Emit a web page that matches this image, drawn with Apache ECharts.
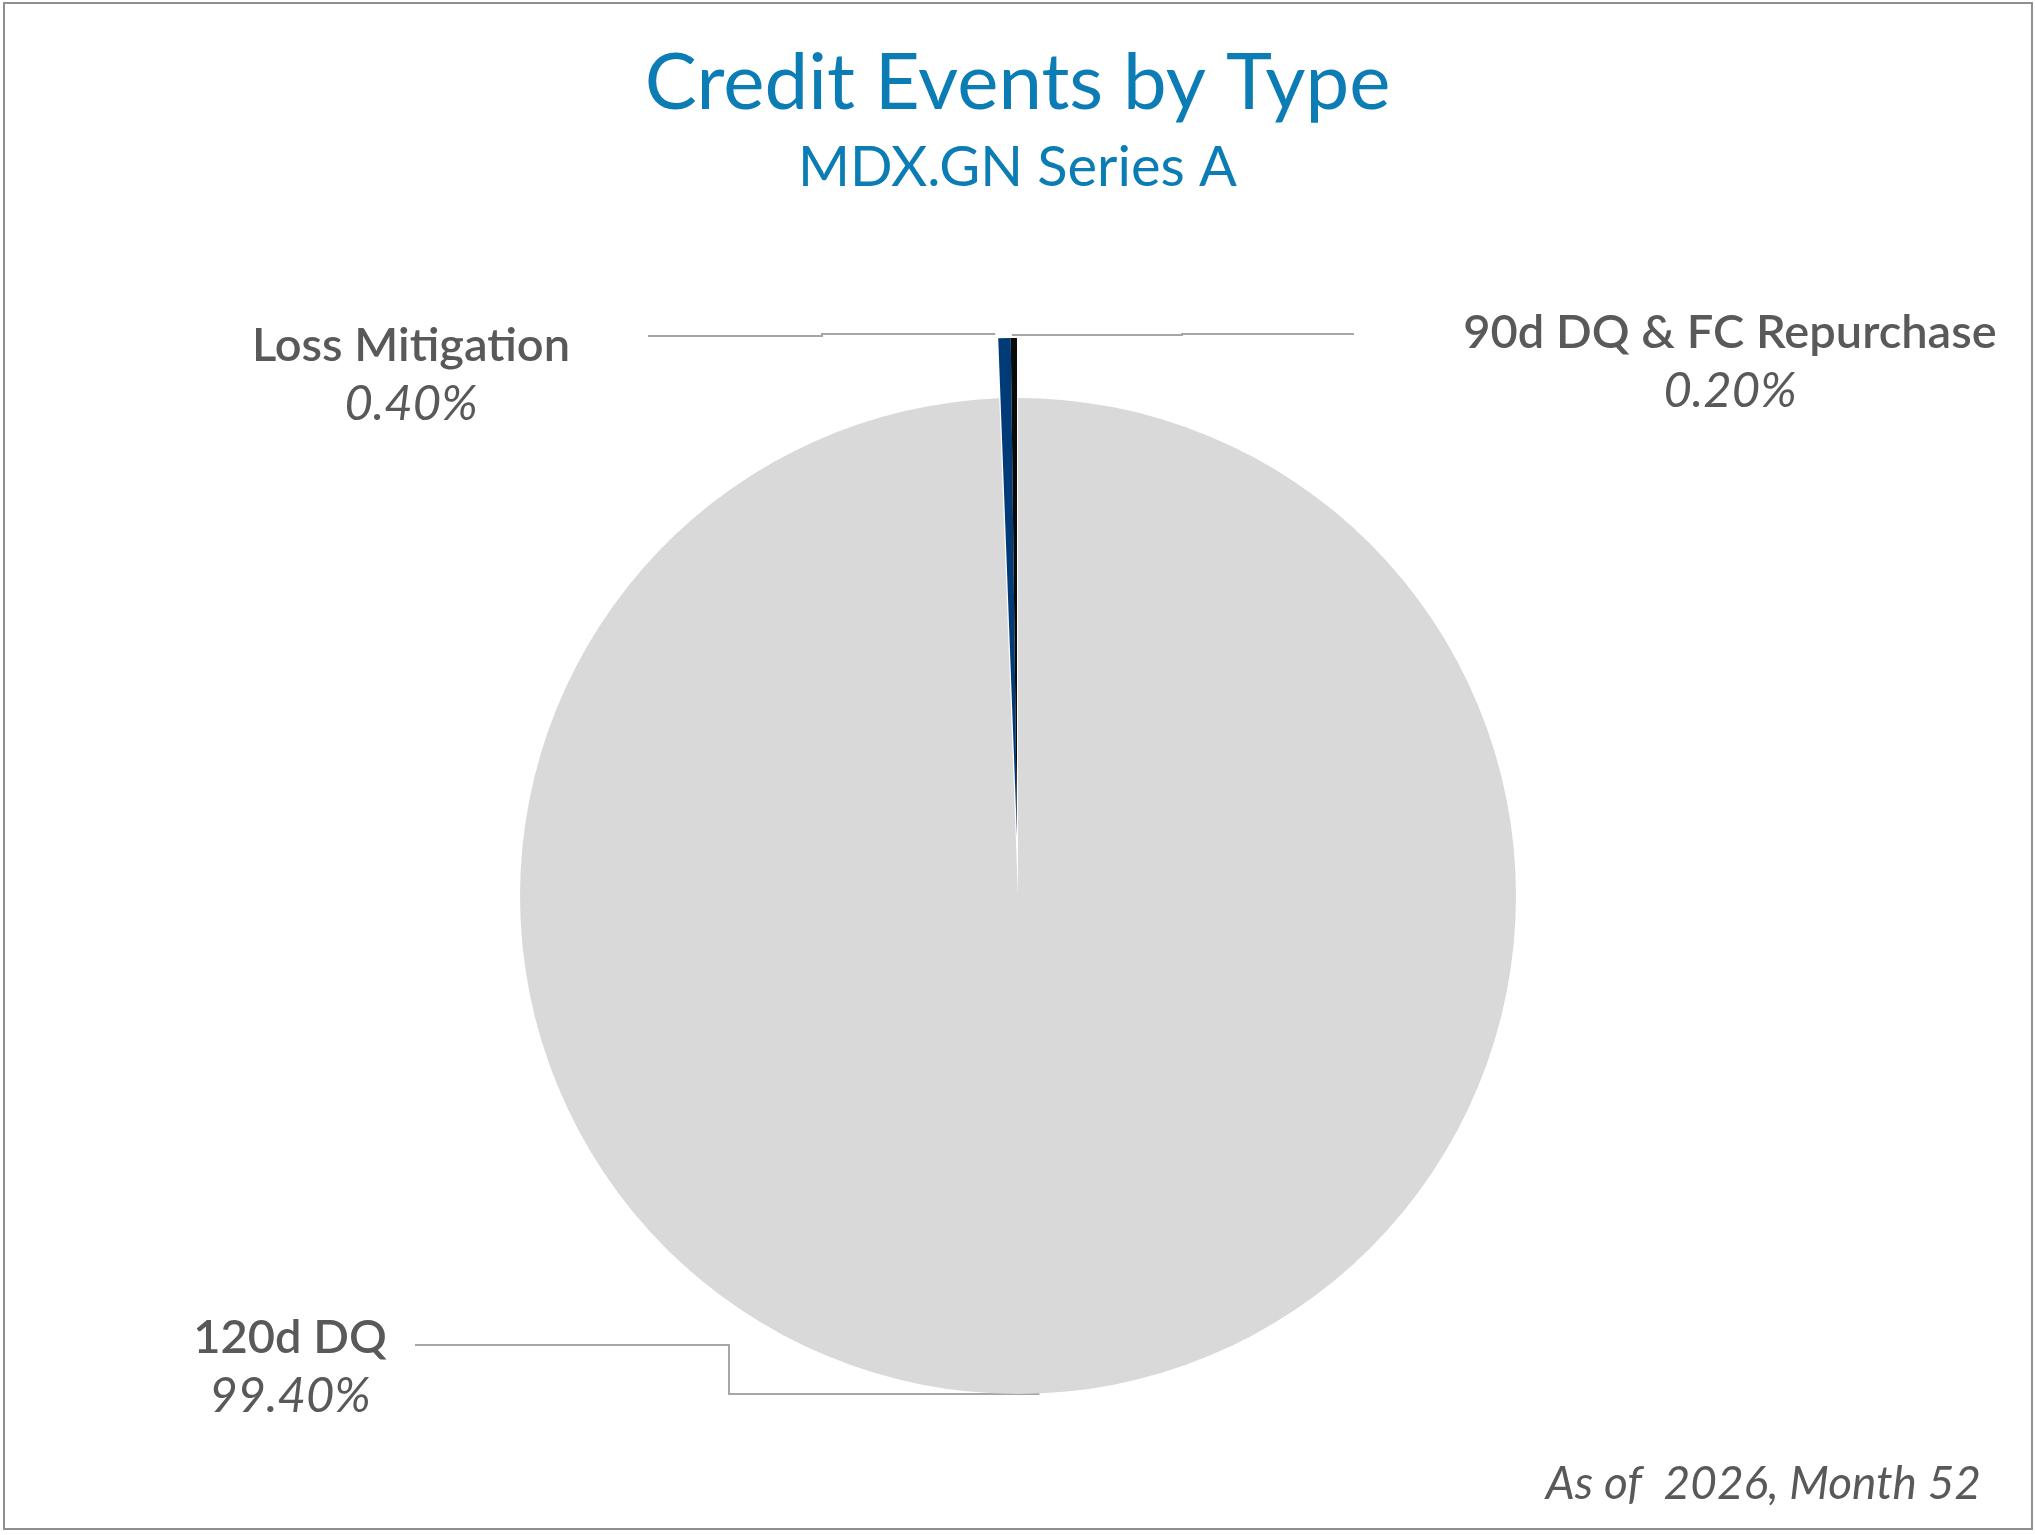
<!DOCTYPE html>
<html>
<head>
<meta charset="utf-8">
<title>Credit Events by Type</title>
<script src="https://cdn.jsdelivr.net/npm/echarts@6/dist/echarts.min.js"></script>
<style>
  html, body { margin: 0; padding: 0; background: #fff; }
  #frame { position: absolute; left: 3px; top: 2px; width: 2026px; height: 1524px; border: 2px solid #8f8f8f; }
  #chart { position: absolute; left: 0; top: 0; width: 2035px; height: 1535px; }
</style>
</head>
<body>
<div id="frame"></div>
<div id="chart"></div>
<script>
// data
const categories = ['120d DQ', 'Loss Mitigation', '90d DQ & FC Repurchase'];
const shares = [99.4, 0.4, 0.2];
const sliceColors = ['#d9d9d9', '#003b78', '#0a0a0a'];
const exploded = [false, true, true];

const FONT = 'Lato, "Open Sans", sans-serif';
const GREY_TXT = '#595959';
const CENTER = [1018, 896];
const RADIUS = 498;
const EXPLODE = 60;

// where each label block sits (centre x, centre y)
const labelSpots = [
  { x: 290, y: 1367 },
  { x: 411, y: 375 },
  { x: 1730, y: 362 }
];

const chart = echarts.init(document.getElementById('chart'));

function leader(i, p) {
  const r = p.rect;
  if (i === 0) {
    const a = p.labelLinePoints ? p.labelLinePoints[0] : [r.x + r.width / 2, r.y + r.height];
    return [[a[0] + 12, a[1]], [729, a[1]], [729, 1345], [415, 1345]];
  }
  if (i === 1) {
    return [[r.x - 3, r.y - 4], [822, r.y - 4], [822, r.y - 2], [648, r.y - 2]];
  }
  return [[r.x + r.width / 2 - 2, r.y - 3], [1182, r.y - 3], [1182, r.y - 4], [1354, r.y - 4]];
}

// one ring for the slices that stay in place, one pushed out for the exploded ones
function ring(pushed) {
  return {
    type: 'pie',
    center: pushed ? [CENTER[0] - 1, CENTER[1] - EXPLODE] : CENTER,
    radius: RADIUS,
    startAngle: 90,
    clockwise: true,
    silent: true,
    emphasis: { disabled: true },
    data: categories.map((c, i) => {
      const mine = exploded[i] === pushed;
      return {
        name: c,
        value: shares[i],
        itemStyle: { color: mine ? sliceColors[i] : 'rgba(0,0,0,0)' },
        label: { show: mine },
        labelLine: { show: mine }
      };
    }),
    label: {
      show: true,
      position: 'outside',
      formatter: p => '{n|' + p.name + '}\n{v|' + p.value.toFixed(2) + '%}',
      rich: {
        n: { fontFamily: FONT, fontSize: 47, fontWeight: 600, color: GREY_TXT, lineHeight: 59, align: 'center' },
        v: { fontFamily: FONT, fontSize: 49, fontStyle: 'italic', color: GREY_TXT, lineHeight: 59, align: 'center' }
      }
    },
    labelLine: { show: true, lineStyle: { color: '#a6a6a6', width: 2 } },
    labelLayout: p => ({
      x: labelSpots[p.dataIndex].x,
      y: labelSpots[p.dataIndex].y,
      align: 'center',
      verticalAlign: 'middle',
      labelLinePoints: leader(p.dataIndex, p)
    })
  };
}

chart.setOption({
  animation: false,
  title: {
    text: 'Credit Events by Type',
    subtext: 'MDX.GN Series A',
    left: 'center',
    top: 40,
    itemGap: 17,
    textStyle: { fontFamily: FONT, fontSize: 78, fontWeight: 'normal', color: '#0b7db4' },
    subtextStyle: { fontFamily: FONT, fontSize: 56, color: '#0b7db4' }
  },
  graphic: [{
    type: 'text',
    right: 54,
    top: 1461,
    style: { text: 'As of  2026, Month 52', font: 'italic 46px ' + FONT, fill: GREY_TXT }
  }],
  series: [ring(false), ring(true)]
});
</script>
</body>
</html>
